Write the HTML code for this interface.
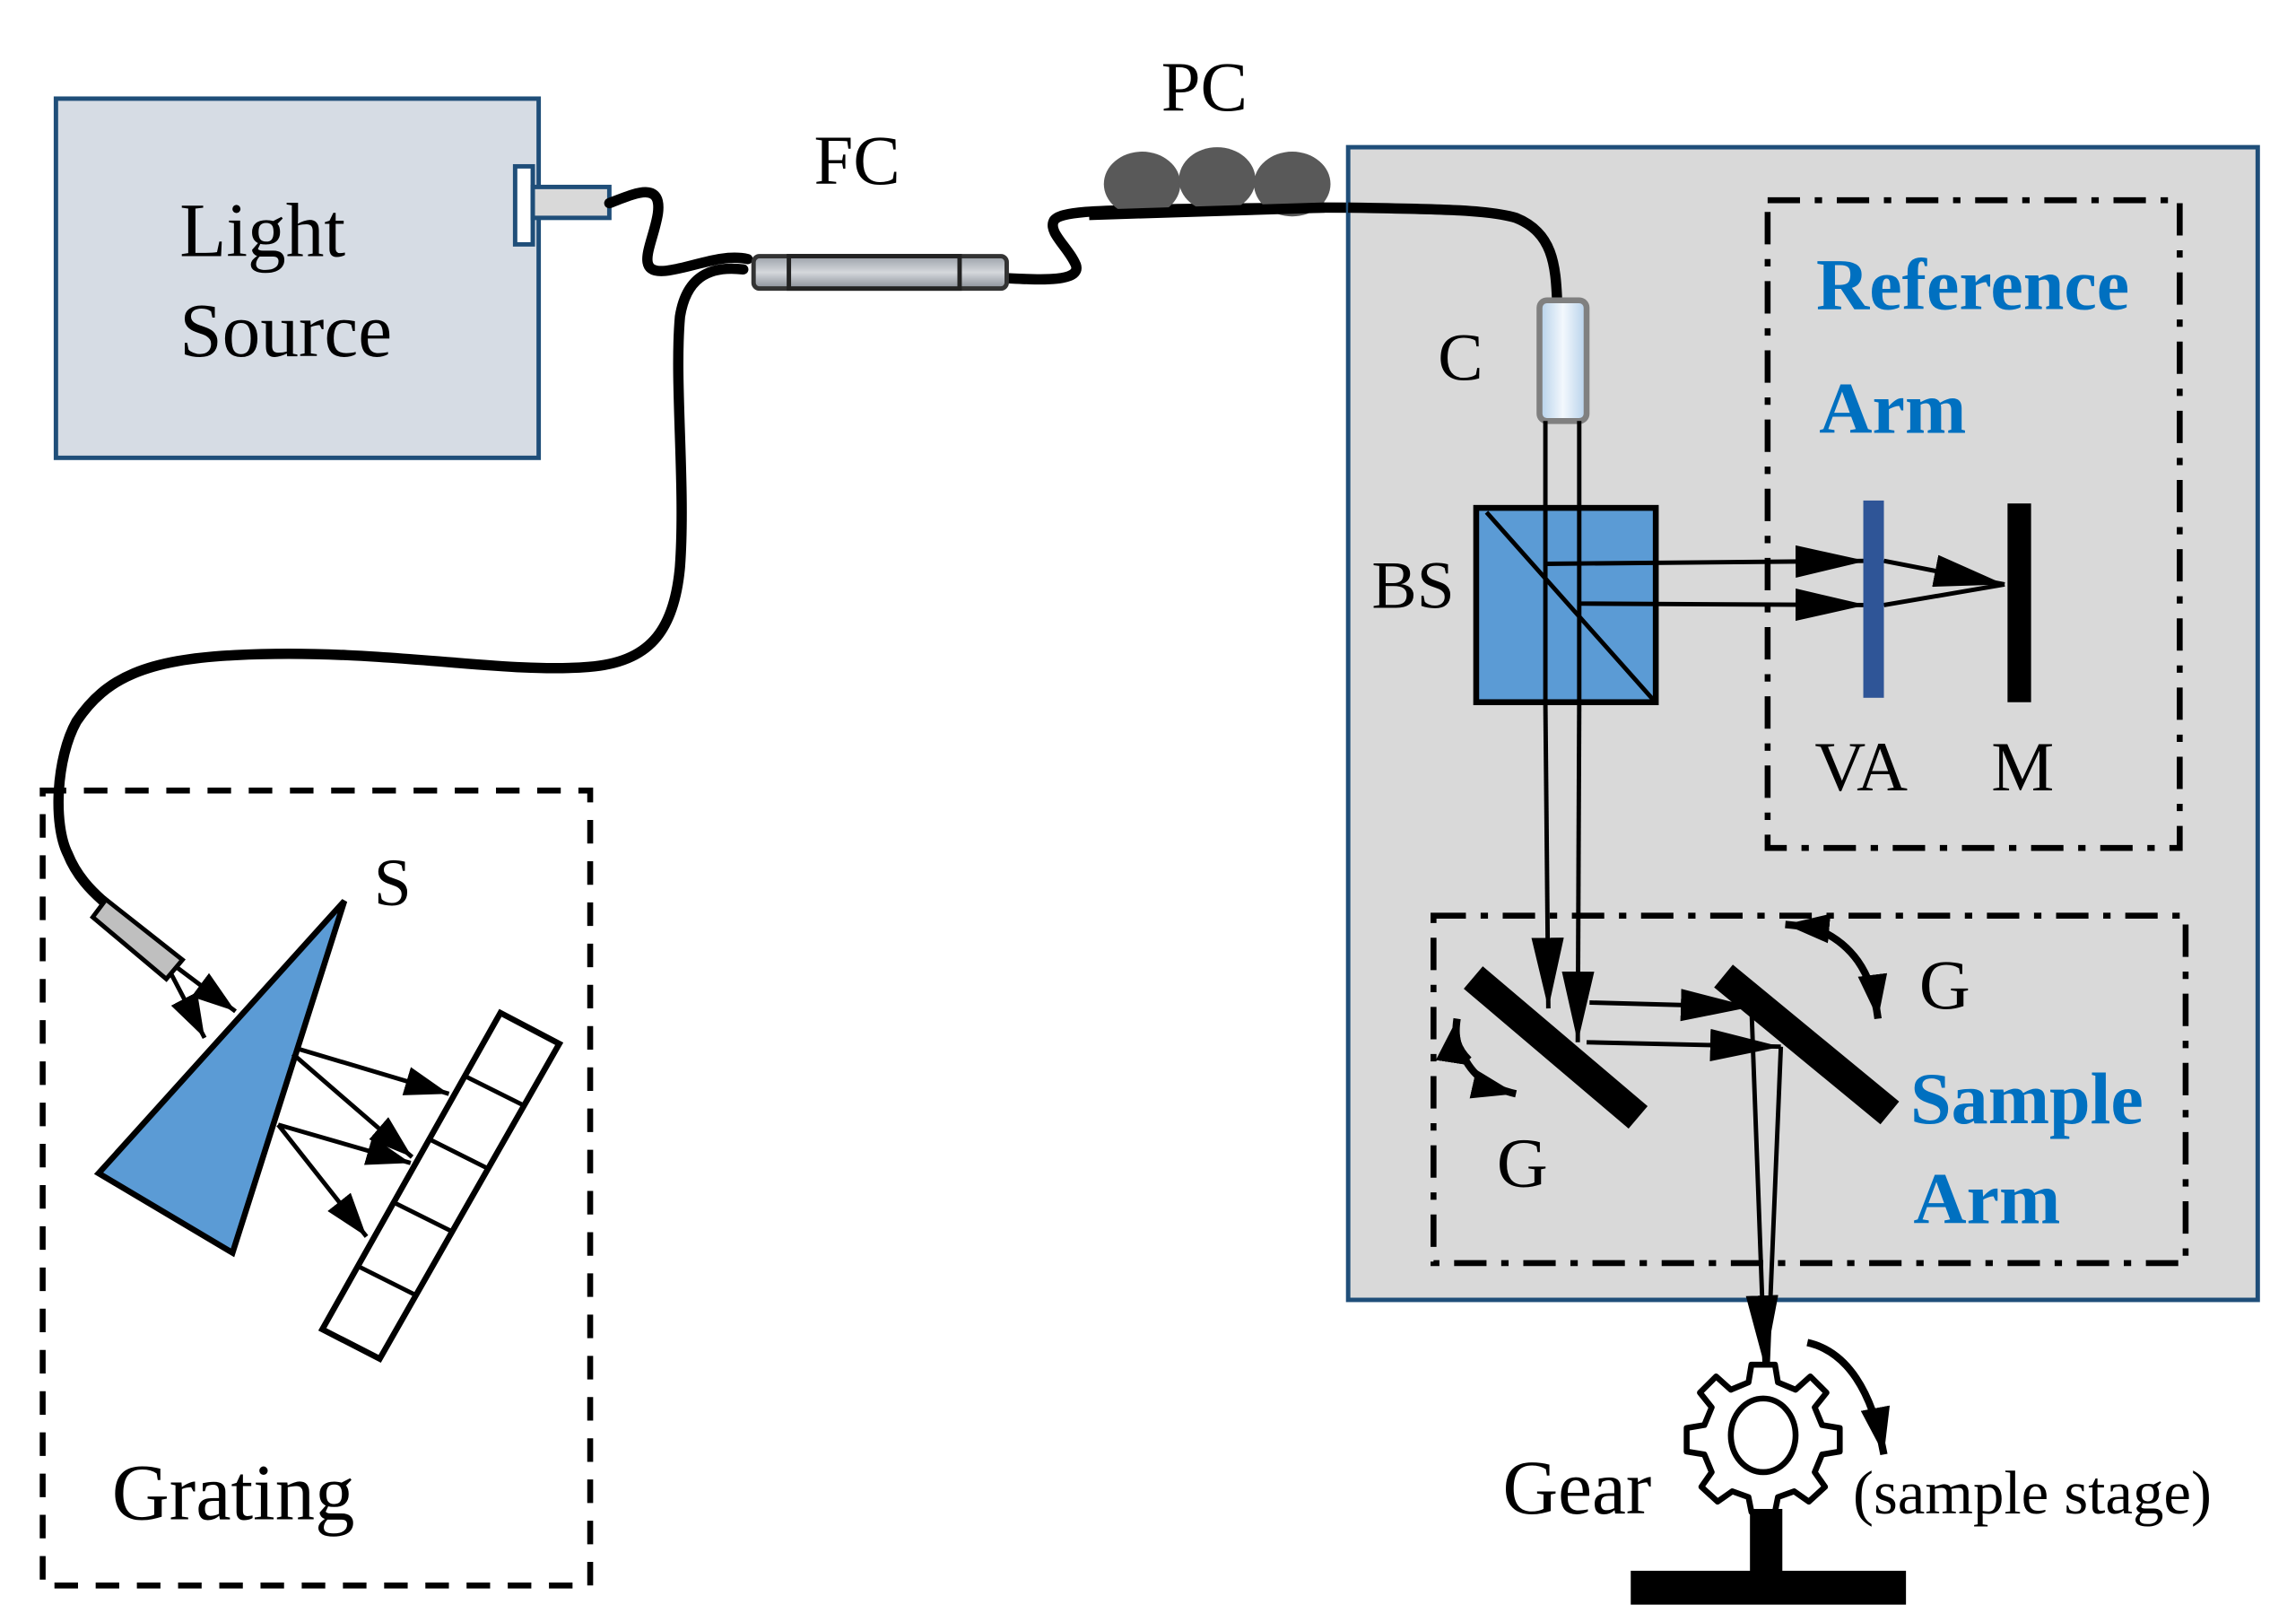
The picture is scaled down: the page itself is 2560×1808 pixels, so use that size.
<!DOCTYPE html>
<html><head><meta charset="utf-8"><style>html,body{margin:0;padding:0;background:#fff}svg{display:block}</style></head>
<body>
<svg width="2560" height="1808" viewBox="0 0 1560 1101.8" preserveAspectRatio="none" xmlns="http://www.w3.org/2000/svg" font-family="Liberation Serif, serif">
<defs>
<marker id="ahL" viewBox="0 0 10 10" refX="10" refY="5" markerWidth="48" markerHeight="22" orient="auto" markerUnits="userSpaceOnUse" preserveAspectRatio="none"><path d="M0,0 L10,5 L0,10 Z" fill="#000"/></marker>
<marker id="ahM" viewBox="0 0 10 10" refX="10" refY="5" markerWidth="32" markerHeight="20" orient="auto" markerUnits="userSpaceOnUse" preserveAspectRatio="none"><path d="M0,0 L10,5 L0,10 Z" fill="#000"/></marker>
<marker id="ahS" viewBox="0 0 10 10" refX="10" refY="5" markerWidth="30" markerHeight="20" orient="auto" markerUnits="userSpaceOnUse" preserveAspectRatio="none"><path d="M0,0 L10,5 L0,10 Z" fill="#000"/></marker>
<linearGradient id="cg" x1="0" x2="1"><stop offset="0" stop-color="#b4d0ea"/><stop offset="0.5" stop-color="#f3f8fd"/><stop offset="1" stop-color="#b4d0ea"/></linearGradient>
<linearGradient id="fg" x1="0" y1="0" x2="0" y2="1"><stop offset="0" stop-color="#9aa0a8"/><stop offset="0.5" stop-color="#d5d8dc"/><stop offset="1" stop-color="#8a9098"/></linearGradient>
</defs>

<rect x="38" y="67" width="328" height="244" fill="#d6dce4" stroke="#1f4e79" stroke-width="3"/>
<text x="122" y="174" font-size="52">Light</text>
<text x="122" y="242" font-size="52">Source</text>
<rect x="350" y="113" width="12" height="53" fill="#fff" stroke="#1f4e79" stroke-width="3"/>
<rect x="362" y="127" width="52" height="21" fill="#d9d9d9" stroke="#1f4e79" stroke-width="3"/>

<g fill="none" stroke="#000" stroke-width="7" stroke-linecap="round">
<path d="M414,138 C430,132 450,122 447,145 C444,165 430,186 452,184 C470,182 490,172 508,176"/>
<path d="M505,183 C480,180 466,190 462,215 C458,260 466,330 462,385 C458,430 440,450 400,453 C340,458 260,440 160,445 C100,448 72,460 52,490 C38,515 36,560 46,580 C52,595 62,605 70,612"/>
<path d="M685,189 C705,190 735,192 731,180 C726,168 712,158 716,150 C720,143 750,143 800,142 L900,141 C960,141 1010,142 1035,150 C1056,160 1057,180 1058,205"/>
</g>
<rect x="512" y="174" width="172" height="22" rx="4" fill="url(#fg)" stroke="#333" stroke-width="3"/>
<rect x="536" y="174" width="116" height="22" fill="url(#fg)" stroke="#222" stroke-width="3"/>
<text x="553" y="125" font-size="48">FC</text>
<ellipse cx="776" cy="125" rx="26" ry="22" fill="#595959"/>
<ellipse cx="827" cy="122" rx="26" ry="22" fill="#595959"/>
<ellipse cx="878" cy="125" rx="26" ry="22" fill="#595959"/>
<path d="M740,146 L900,141" stroke="#000" stroke-width="7" fill="none"/>
<text x="789" y="75" font-size="48">PC</text>

<rect x="916" y="100" width="618" height="783" fill="#d9d9d9" stroke="#1f4e79" stroke-width="3"/>
<path d="M916,141 C970,142 1010,142 1030,148 C1055,158 1057,180 1058,205" fill="none" stroke="#000" stroke-width="7"/>
<rect x="1201" y="136" width="280" height="440" fill="none" stroke="#000" stroke-width="4" stroke-dasharray="22,10,5,10"/>
<text x="1234" y="210" font-size="50" font-weight="bold" fill="#0070c0">Reference</text>
<text x="1236" y="294" font-size="50" font-weight="bold" fill="#0070c0">Arm</text>
<rect x="1046" y="204" width="32" height="82" rx="5" fill="url(#cg)" stroke="#808080" stroke-width="4"/>
<text x="977" y="258" font-size="46">C</text>
<rect x="1003" y="345" width="122" height="132" fill="#5b9bd5" stroke="#000" stroke-width="4"/>
<line x1="1010" y1="348" x2="1123" y2="475" stroke="#000" stroke-width="3"/>
<g stroke="#000" stroke-width="3" fill="none">
<line x1="1050" y1="286" x2="1050" y2="477"/>
<line x1="1073" y1="286" x2="1073" y2="477"/>
<line x1="1050" y1="383" x2="1268" y2="381" marker-end="url(#ahL)"/>
<line x1="1073" y1="410" x2="1268" y2="411" marker-end="url(#ahL)"/>
<line x1="1280" y1="381" x2="1362" y2="397" marker-end="url(#ahL)"/>
<line x1="1280" y1="411" x2="1362" y2="397"/>
</g>
<text x="932" y="413" font-size="46">BS</text>
<rect x="1266" y="340" width="14" height="134" fill="#2f5597"/>
<rect x="1364" y="342" width="16" height="135" fill="#000"/>
<text x="1233" y="537" font-size="48">VA</text>
<text x="1353" y="537" font-size="48">M</text>

<rect x="974" y="622" width="511" height="236" fill="none" stroke="#000" stroke-width="4" stroke-dasharray="22,10,5,10"/>
<g stroke="#000" stroke-width="3" fill="none">
<line x1="1050" y1="477" x2="1052" y2="685" marker-end="url(#ahL)"/>
<line x1="1073" y1="477" x2="1072" y2="708" marker-end="url(#ahL)"/>
<line x1="1080" y1="681" x2="1190" y2="684" marker-end="url(#ahL)"/>
<line x1="1078" y1="708" x2="1210" y2="711" marker-end="url(#ahL)"/>
<line x1="1190" y1="684" x2="1199" y2="928" marker-end="url(#ahL)"/>
<line x1="1210" y1="711" x2="1201" y2="928"/>
</g>
<line x1="1001" y1="664" x2="1113" y2="759" stroke="#000" stroke-width="20"/>
<line x1="1171" y1="663" x2="1284" y2="756" stroke="#000" stroke-width="20"/>
<path d="M998,720 C990,712 988,705 990,692" fill="none" stroke="#000" stroke-width="5" marker-end="url(#ahS)"/>
<path d="M992,712 C998,728 1008,738 1030,743" fill="none" stroke="#000" stroke-width="5" marker-end="url(#ahS)"/>
<path d="M1240,632 C1232,630 1224,629 1213,628" fill="none" stroke="#000" stroke-width="5" marker-end="url(#ahS)"/>
<path d="M1232,630 C1258,640 1272,660 1276,692" fill="none" stroke="#000" stroke-width="5" marker-end="url(#ahS)"/>
<text x="1304" y="685" font-size="48">G</text>
<text x="1017" y="806" font-size="48">G</text>
<text x="1298" y="763" font-size="50" font-weight="bold" fill="#0070c0">Sample</text>
<text x="1300" y="831" font-size="50" font-weight="bold" fill="#0070c0">Arm</text>

<g transform="translate(1198,977)">
<path d="M-8,-50 L8,-50 L10,-38 L22,-33 L32,-42 L43,-31 L35,-21 L40,-9 L52,-7 L52,9 L40,11 L35,23 L42,33 L31,43 L21,36 L10,40 L8,50 L-8,50 L-10,40 L-21,36 L-31,43 L-42,33 L-35,23 L-40,11 L-52,9 L-52,-7 L-40,-9 L-35,-21 L-43,-31 L-32,-42 L-22,-33 L-10,-38 Z" fill="#fff" stroke="#000" stroke-width="4" stroke-linejoin="round"/>
<ellipse cx="0" cy="-2" rx="22" ry="25" fill="#fff" stroke="#000" stroke-width="4"/>
</g>
<rect x="1189" y="1025" width="22" height="44" fill="#000"/>
<rect x="1108" y="1067" width="187" height="23" fill="#000"/>
<path d="M1228,912 C1255,918 1272,945 1280,988" fill="none" stroke="#000" stroke-width="5" marker-end="url(#ahM)"/>
<text x="1021" y="1028" font-size="52">Gear</text>
<text x="1259" y="1028" font-size="42">(sample stage)</text>

<rect x="29" y="537" width="372" height="540" fill="none" stroke="#000" stroke-width="4" stroke-dasharray="16,12"/>
<text x="76" y="1032" font-size="54">Grating</text>
<text x="254" y="615" font-size="46">S</text>
<polygon points="63,623 72,611 124,652 113,665" fill="#bfbfbf" stroke="#000" stroke-width="3"/>
<g stroke="#000" stroke-width="3" fill="none">
<line x1="116" y1="661" x2="139" y2="705" marker-end="url(#ahS)"/>
<line x1="120" y1="657" x2="160" y2="687" marker-end="url(#ahS)"/>
</g>
<polygon points="234,612 67,797 158,851" fill="#5b9bd5" stroke="#000" stroke-width="4"/>
<polygon points="340,688 380,709 258,923 219,903" fill="#fff" stroke="#000" stroke-width="4"/>
<g stroke="#000" stroke-width="3">
<line x1="316" y1="731" x2="356" y2="751"/>
<line x1="292" y1="774" x2="332" y2="794"/>
<line x1="268" y1="817" x2="308" y2="837"/>
<line x1="243" y1="860" x2="283" y2="880"/>
</g>
<g stroke="#000" stroke-width="3" fill="none">
<line x1="201" y1="712" x2="305" y2="743" marker-end="url(#ahS)"/>
<line x1="199" y1="716" x2="280" y2="786" marker-end="url(#ahS)"/>
<line x1="189" y1="764" x2="279" y2="790" marker-end="url(#ahS)"/>
<line x1="189" y1="764" x2="249" y2="840" marker-end="url(#ahS)"/>
</g>
</svg>
</body></html>
